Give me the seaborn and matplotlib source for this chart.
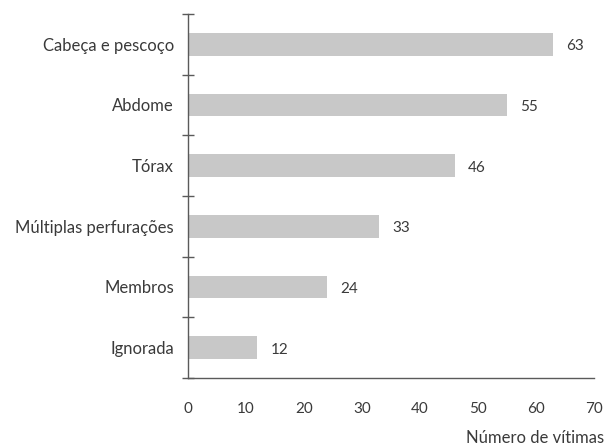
import matplotlib
matplotlib.use("Agg")
import matplotlib.pyplot as plt
import seaborn as sns
import pandas as pd
from matplotlib.ticker import FixedLocator

categorias = ["Cabeça e pescoço", "Abdome", "Tórax", "Múltiplas perfurações", "Membros", "Ignorada"]
vitimas = [63, 55, 46, 33, 24, 12]
x_ticks = [0, 10, 20, 30, 40, 50, 60, 70]

sns.set_theme(style="white")
plt.rcParams["font.family"] = ["Lato", "DejaVu Sans"]

df = pd.DataFrame({"categoria": categorias, "vitimas": vitimas})

fig = plt.figure(figsize=(6.06, 4.46), dpi=100)
ax = fig.add_axes([0.310, 0.1525, 0.670, 0.8161])

sns.barplot(data=df, x="vitimas", y="categoria", orient="h", color="#c8c8c8",
            saturation=1, width=0.37, edgecolor="none", ax=ax)

txt = "#3a3a3a"
axis_c = "#5a5a5a"

ax.set_xlim(0, 70)
ax.set_ylim(len(categorias) - 0.5, -0.5)
ax.set_xticks(x_ticks)
ax.set_xticklabels([str(t) for t in x_ticks], fontsize=11, color=txt)
ax.tick_params(axis="x", direction="inout", length=8, width=1, color=axis_c, pad=13)

ax.yaxis.set_minor_locator(FixedLocator([i - 0.5 for i in range(len(categorias) + 1)]))
ax.tick_params(axis="y", which="minor", direction="inout", length=8, width=1, color=axis_c, left=True)
ax.tick_params(axis="y", which="major", length=0, pad=10, labelsize=12, labelcolor=txt)

ax.set_xlabel("Número de vítimas", fontsize=12, color=txt)
ax.xaxis.label.set_horizontalalignment("right")
ax.xaxis.label.set_verticalalignment("center")
ax.xaxis.set_label_coords(1.0246, -0.165)
ax.set_ylabel("")

sns.despine(ax=ax)
for s in ("left", "bottom"):
    ax.spines[s].set_color(axis_c)
    ax.spines[s].set_linewidth(1)

for i, v in enumerate(vitimas):
    ax.annotate(str(v), (v, i), xytext=(13, -2), textcoords="offset pixels",
                ha="left", va="center", fontsize=11, color=txt)

fig.savefig("out.png", dpi=100)
